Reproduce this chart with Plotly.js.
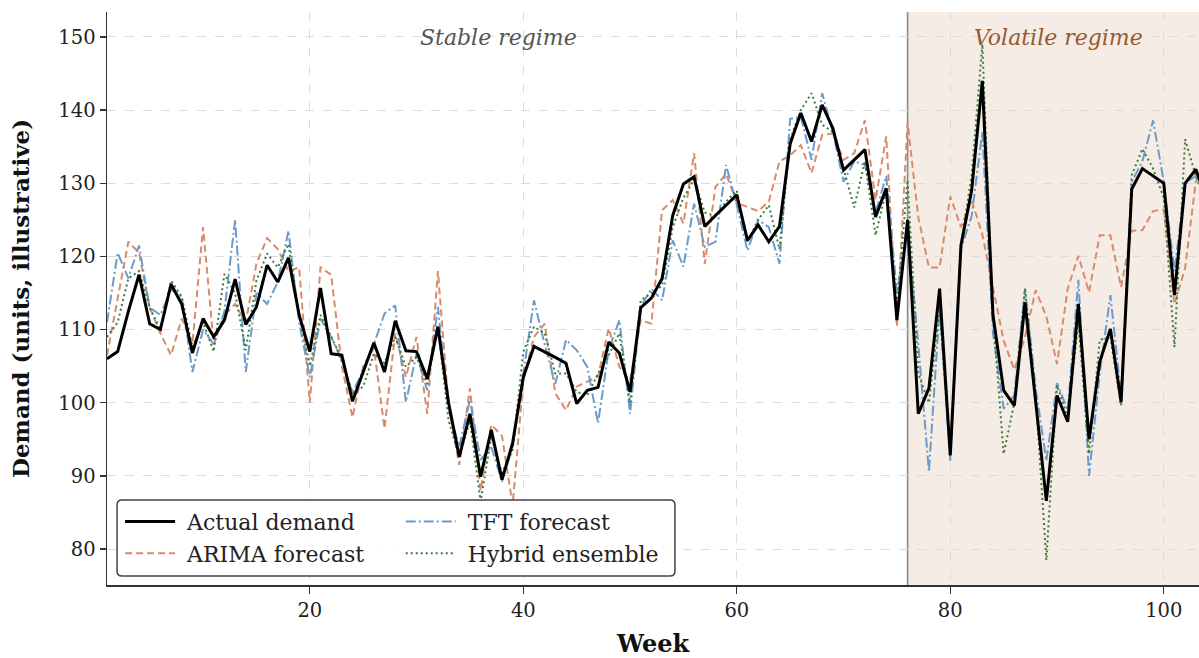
<!DOCTYPE html>
<html>
<head>
<meta charset="utf-8">
<script src="https://cdn.plot.ly/plotly-3.0.1.min.js"></script>
<style>html,body{margin:0;padding:0;background:#fff;}#chart{width:1199px;height:658px;}</style>
</head>
<body>
<div id="chart"></div>
<script>
const weeks = Array.from({length: 104}, (_, i) => i + 1);

const actualDemand = [
  106.0,107.0,112.5,117.5,110.8,110.0,116.2,113.5,106.8,111.5,
  109.0,111.3,116.9,110.7,113.1,118.8,116.5,119.8,112.0,107.0,
  115.7,106.7,106.5,100.2,104.2,108.2,104.2,111.2,107.1,107.0,
  103.3,110.4,100.0,92.6,98.5,89.9,96.3,89.5,94.5,103.5,
  107.7,107.0,106.2,105.4,99.9,101.7,102.1,108.3,106.8,101.5,
  113.0,114.3,117.0,125.6,129.9,130.9,124.1,125.6,127.0,128.4,
  122.2,124.3,122.0,124.1,135.4,139.6,135.7,140.7,137.5,131.8,
  133.2,134.6,125.4,129.3,111.3,125.0,98.5,102.0,115.6,92.8,
  121.5,129.0,144.0,112.0,101.7,99.6,113.7,100.5,86.6,101.0,
  97.4,113.5,95.0,105.6,110.1,100.1,129.2,132.0,131.0,130.0,
  114.7,130.0,131.9,128.0
];

const arimaForecast = [
  106.5,114.5,122.0,120.5,113.0,109.5,106.5,111.5,108.0,124.0,
  108.0,112.0,113.5,111.0,119.0,122.5,121.0,118.0,118.5,100.0,
  118.5,117.5,105.0,98.0,105.0,107.5,96.5,109.5,103.5,109.0,
  98.5,118.0,99.5,91.5,102.0,88.0,97.0,95.5,86.0,103.0,
  109.0,110.8,101.3,99.0,102.2,102.9,103.6,110.2,104.9,103.0,
  111.3,110.8,126.3,127.7,124.5,134.1,119.0,129.5,131.3,127.3,
  126.8,126.2,127.5,133.0,133.8,135.2,131.4,136.6,136.8,133.2,
  134.1,138.6,127.7,136.4,110.4,138.3,125.4,118.5,118.5,128.2,
  124.0,127.7,123.0,116.0,108.5,104.5,109.0,115.4,111.8,105.3,
  115.6,120.1,115.1,122.9,122.9,115.8,123.5,123.6,126.2,126.4,
  113.5,118.4,130.2,132.0
];

const tftForecast = [
  111.0,120.5,117.0,121.5,113.0,112.0,115.5,114.5,104.2,110.0,
  108.0,112.5,125.0,104.2,115.0,113.5,116.5,123.5,111.0,103.5,
  111.5,109.0,105.8,101.3,104.5,108.0,112.2,113.3,100.1,106.7,
  101.7,113.1,99.0,94.0,100.4,92.2,94.0,89.2,94.0,104.0,
  114.0,108.0,102.6,108.6,107.2,104.9,97.2,107.2,111.3,98.5,
  113.1,115.6,114.0,122.2,118.6,127.2,121.3,122.0,132.5,127.0,
  120.8,125.0,124.0,119.0,138.8,139.1,133.2,142.3,137.0,130.2,
  133.0,132.5,126.0,131.0,115.0,124.0,108.0,90.6,113.0,92.0,
  121.0,125.5,137.0,109.5,99.2,101.0,115.6,102.0,92.1,102.7,
  99.0,116.8,90.0,104.0,114.7,101.0,130.2,133.0,138.6,130.2,
  118.0,130.0,131.0,129.0
];

const hybridEnsemble = [
  109.0,111.0,117.0,118.0,113.0,110.0,116.7,114.5,107.6,111.0,
  107.0,117.6,115.0,107.2,116.7,120.4,118.5,121.7,112.0,105.0,
  112.0,109.0,106.0,101.3,102.2,106.7,105.4,109.0,104.9,106.3,
  102.6,110.4,97.6,92.6,97.6,86.5,95.4,90.4,93.5,107.0,
  110.4,109.5,104.0,104.0,101.5,101.0,104.0,106.5,109.5,100.0,
  114.0,115.0,116.0,124.0,128.0,130.5,126.0,125.5,127.5,129.0,
  122.0,125.0,127.0,121.0,136.0,140.0,142.3,138.0,137.0,132.0,
  126.7,133.0,122.9,129.0,113.0,130.4,104.0,100.0,113.0,93.0,
  121.7,131.0,149.0,111.8,93.0,100.0,115.6,101.0,78.5,102.4,
  98.0,111.0,93.0,108.6,109.0,99.6,131.1,134.7,132.0,128.0,
  107.6,136.0,131.0,127.0
];

const seriesNames = ["Actual demand", "ARIMA forecast", "TFT forecast", "Hybrid ensemble"];
const xTicks = [20, 40, 60, 80, 100];
const yTicks = [80, 90, 100, 110, 120, 130, 140, 150];
const regimeStart = 76;
const regimeLabels = ["Stable regime", "Volatile regime"];

const FONT = "DejaVu Serif, serif";
const GAP = "\u00a0";

const traces = [
  {x: weeks, y: arimaForecast, name: GAP + seriesNames[1], mode: "lines",
   line: {color: "#d98b6b", width: 2, dash: "7px,4px"}, legend: "legend", legendrank: 2},
  {x: weeks, y: tftForecast, name: GAP + seriesNames[2], mode: "lines",
   line: {color: "#6a9bc9", width: 2, dash: "10px,3px,2px,3px"}, legend: "legend2", legendrank: 1},
  {x: weeks, y: hybridEnsemble, name: GAP + seriesNames[3], mode: "lines",
   line: {color: "#3d7a3d", width: 2, dash: "2px,3px"}, legend: "legend2", legendrank: 2},
  {x: weeks, y: actualDemand, name: GAP + seriesNames[0], mode: "lines",
   line: {color: "#000000", width: 3}, legend: "legend", legendrank: 1}
];

// legend frame (rounded) in paper coords
const x0 = 0.0092, x1 = 0.5201, y0 = 0.0157, y1 = 0.1483, rx = 0.0046, ry = 0.0087;
const framePath = `M ${x0+rx},${y0} L ${x1-rx},${y0} Q ${x1},${y0} ${x1},${y0+ry} L ${x1},${y1-ry} Q ${x1},${y1} ${x1-rx},${y1} L ${x0+rx},${y1} Q ${x0},${y1} ${x0},${y1-ry} L ${x0},${y0+ry} Q ${x0},${y0} ${x0+rx},${y0} Z`;

const layout = {
  width: 1199, height: 658,
  margin: {l: 107, r: 0, t: 12, b: 73},
  paper_bgcolor: "#ffffff", plot_bgcolor: "#ffffff",
  font: {family: FONT, color: "#222"},
  showlegend: true,
  xaxis: {
    range: [1, 103.3], tickvals: xTicks, ticktext: xTicks.map(String),
    showgrid: true, gridcolor: "#dcdcdc", griddash: "dash", gridwidth: 1,
    zeroline: false, showline: true, linecolor: "#333", linewidth: 1.5,
    ticks: "outside", ticklen: 7, tickwidth: 1.3, tickcolor: "#333",
    tickfont: {family: FONT, size: 19.5, color: "#222"},
    title: {text: "<b>Week</b>", font: {family: FONT, size: 24, color: "#111"}, standoff: 14}
  },
  yaxis: {
    range: [75.1, 153.4], tickvals: yTicks, ticktext: yTicks.map(String),
    showgrid: true, gridcolor: "#dcdcdc", griddash: "dash", gridwidth: 1,
    zeroline: false, showline: true, linecolor: "#333", linewidth: 1.5,
    ticks: "outside", ticklen: 6, tickwidth: 1.3, tickcolor: "#333",
    tickfont: {family: FONT, size: 19.5, color: "#222"},
    title: {text: "<b>Demand (units, illustrative)</b>", font: {family: FONT, size: 23, color: "#111"}, standoff: 22}
  },
  shapes: [
    {type: "rect", xref: "x", yref: "paper", x0: regimeStart, x1: 110, y0: 0, y1: 1,
     fillcolor: "#f6ece6", line: {width: 0}, layer: "below"},
    {type: "line", xref: "x", yref: "paper", x0: regimeStart, x1: regimeStart, y0: 0, y1: 1,
     line: {color: "#8a8a8a", width: 1.6}, layer: "between"},
    {type: "path", xref: "paper", yref: "paper", path: framePath,
     fillcolor: "rgba(255,255,255,0.9)", line: {color: "#444", width: 1.5}, layer: "above"}
  ],
  annotations: [
    {x: 37.7, y: 149.9, xref: "x", yref: "y", text: regimeLabels[0], showarrow: false,
     font: {family: FONT, size: 22, color: "#555", style: "italic"}},
    {x: 90.1, y: 149.9, xref: "x", yref: "y", text: regimeLabels[1], showarrow: false,
     font: {family: FONT, size: 22, color: "#965a2e", style: "italic"}}
  ],
  legend: {x: 0.012, y: 0.147, xanchor: "left", yanchor: "top", bgcolor: "rgba(0,0,0,0)",
           borderwidth: 0, font: {family: FONT, size: 22, color: "#222"}, itemwidth: 50,
           tracegroupgap: 0, traceorder: "normal"},
  legend2: {x: 0.269, y: 0.147, xanchor: "left", yanchor: "top", bgcolor: "rgba(0,0,0,0)",
           borderwidth: 0, font: {family: FONT, size: 22, color: "#222"}, itemwidth: 50,
           tracegroupgap: 0, traceorder: "normal"}
};

Plotly.newPlot("chart", traces, layout, {displayModeBar: false, staticPlot: true});
</script>
</body>
</html>
